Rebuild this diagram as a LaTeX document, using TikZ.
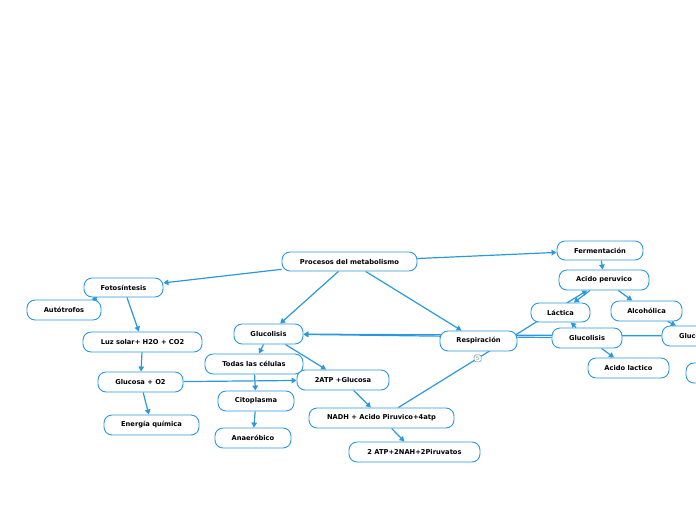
\documentclass[tikz,border=0pt]{standalone}
\usepackage{fontspec}
\setmainfont{DejaVu Sans}
\usetikzlibrary{arrows.meta}
\definecolor{mblue}{RGB}{43,152,222}
\definecolor{bgray}{RGB}{120,150,180}
\pgfdeclarelayer{background}
\pgfsetlayers{background,main}
\begin{document}
\begin{tikzpicture}[x=1pt,y=-1pt,
  box/.style={draw=mblue, line width=0.9pt, rounded corners=8pt, fill=white,
    minimum height=20pt, inner sep=0pt, text=black,
    font=\fontsize{6.7}{8}\selectfont\bfseries},
  conn/.style={draw=mblue, line width=1.2pt},
  arr/.style={conn, -{Triangle[length=5pt,width=5.5pt]}},
  badge/.style={draw=mblue!60!gray, line width=0.5pt, fill=white, rounded corners=1.5pt,
    minimum width=7pt, minimum height=7pt, inner sep=0pt, text=gray,
    font=\fontsize{5}{5}\selectfont}]
\clip (0,0) rectangle (696,520);
% nodes
\node[box, minimum width=135pt, minimum height=19pt] (proc) at (349.5,261.5) {Procesos del metabolismo};
\node[box, minimum width=79pt, minimum height=19pt] (foto) at (123.5,287.5) {Fotosíntesis};
\node[box, minimum width=74pt] (auto) at (64,310) {Autótrofos};
\node[box, minimum width=119pt] (luz) at (142.5,342) {Luz solar+ H2O + CO2};
\node[box, minimum width=85pt] (glucO) at (140.5,382) {Glucosa + O2};
\node[box, minimum width=95pt] (energia) at (151.5,425) {Energía química};
\node[box, minimum width=69pt] (glucL) at (268.5,334) {Glucolisis};
\node[box, minimum width=98pt] (todas) at (254,364) {Todas las células};
\node[box, minimum width=92pt] (atp) at (343,380) {2ATP +Glucosa};
\node[box, minimum width=76pt] (cito) at (256,401) {Citoplasma};
\node[box, minimum width=76pt] (anae) at (253,438) {Anaeróbico};
\node[box, minimum width=145pt] (nadh) at (381.5,418) {NADH + Acido Piruvico+4atp};
\node[box, minimum width=131pt] (piru) at (414.5,452) {2 ATP+2NAH+2Piruvatos};
\node[box, minimum width=77pt] (resp) at (478.5,341) {Respiración};
\node[box, minimum width=86pt, minimum height=19pt] (ferm) at (600,250.5) {Fermentación};
\node[box, minimum width=90pt] (acido) at (604,280) {Acido peruvico};
\node[box, minimum width=59pt, minimum height=19pt] (lact) at (560.5,312.5) {Láctica};
\node[box, minimum width=71pt] (alco) at (646.5,311) {Alcohólica};
\node[box, minimum width=70pt] (glucR) at (587,338) {Glucolisis};
\node[box, minimum width=70pt] (glucF) at (697,336) {Glucolisis};
\node[box, minimum width=81pt] (lactico) at (628.5,368) {Acido lactico};
\node[box, minimum width=70pt] (cut) at (721,373) {};
% connectors
\begin{pgfonlayer}{background}
\draw[arr] (proc) -- (foto);
\draw[arr] (proc) -- (ferm);
\draw[arr] (proc) -- (glucL);
\draw[arr] (proc) -- (resp);
\draw[arr] (foto) -- (auto);
\draw[arr] (foto) -- (luz);
\draw[arr] (luz) -- (glucO);
\draw[arr] (glucO) -- (energia);
\draw[arr] (glucO) -- (atp);
\draw[arr] (glucL) -- (todas);
\draw[arr] (glucL) -- (atp);
\draw[arr] (todas) -- (cito);
\draw[arr] (cito) -- (anae);
\draw[arr] (atp) -- (nadh);
\draw[arr] (nadh) -- (piru);
\draw[arr] (glucR) -- (glucL);
\draw[arr] (glucF) -- (glucL);
\draw[arr] (nadh) -- node[badge, pos=0.42] (b5) {5} (acido);
\draw[arr] (acido) -- (lact);
\draw[arr] (glucR) -- (lact);
\draw[arr] (ferm) -- (acido);
\draw[arr] (acido) -- (alco);
\draw[arr] (alco) -- (glucF);
\draw[arr] (glucR) -- (lactico);
\end{pgfonlayer}
\end{tikzpicture}
\end{document}
